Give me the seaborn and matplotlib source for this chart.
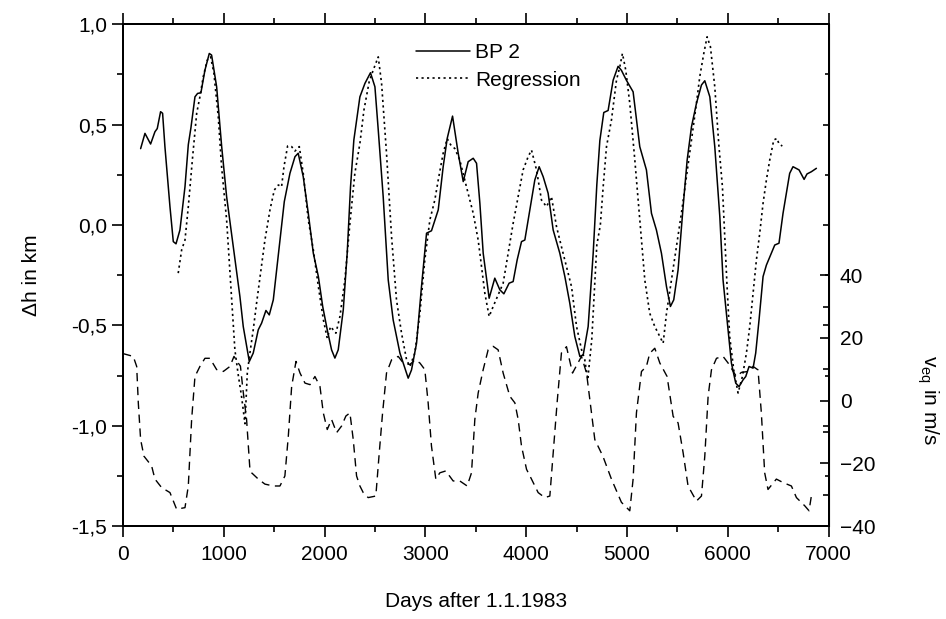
import pandas as pd
import seaborn as sns
import matplotlib.pyplot as plt
from matplotlib.ticker import MultipleLocator, FixedLocator

# BP 2 (solid), height change in km
bp2_days = [175, 218, 274, 317, 340, 373, 393, 416, 466, 499, 526, 565, 615, 648, 674,
            714, 740, 773, 813, 856, 879, 929, 979, 1028, 1094, 1160, 1193, 1253, 1292,
            1342, 1375, 1418, 1451, 1491, 1517, 1557, 1600, 1656, 1706, 1738, 1788, 1838,
            1888, 1938, 1981, 2026, 2069, 2102, 2135, 2185, 2224, 2257, 2290, 2350, 2400,
            2455, 2499, 2532, 2581, 2631, 2680, 2747, 2829, 2862, 2912, 2961, 3011, 3060,
            3127, 3176, 3216, 3269, 3325, 3375, 3424, 3474, 3507, 3540, 3573, 3632, 3688,
            3738, 3778, 3830, 3870, 3910, 3953, 3986, 4036, 4085, 4128, 4168, 4217, 4267,
            4333, 4383, 4432, 4482, 4532, 4565, 4614, 4664, 4700, 4730, 4769, 4812, 4862,
            4911, 4944, 4994, 5060, 5126, 5192, 5242, 5291, 5341, 5391, 5430, 5463, 5506,
            5556, 5596, 5639, 5688, 5738, 5771, 5821, 5870, 5920, 5952, 5992, 6035, 6078,
            6111, 6151, 6177, 6210, 6250, 6276, 6309, 6349, 6382, 6431, 6465, 6507, 6547,
            6580, 6613, 6646, 6706, 6756, 6785, 6828, 6878]
bp2_dh = [0.38, 0.456, 0.403, 0.464, 0.48, 0.564, 0.556, 0.39, 0.091, -0.083, -0.094, -0.025,
          0.19, 0.40, 0.484, 0.638, 0.655, 0.658, 0.771, 0.854, 0.846, 0.688, 0.39, 0.141,
          -0.108, -0.357, -0.506, -0.68, -0.638, -0.522, -0.489, -0.426, -0.448, -0.373,
          -0.257, -0.075, 0.116, 0.257, 0.34, 0.357, 0.24, 0.058, -0.141, -0.257, -0.406,
          -0.522, -0.622, -0.663, -0.622, -0.423, -0.141, 0.19, 0.423, 0.638, 0.705, 0.758,
          0.688, 0.473, 0.141, -0.274, -0.473, -0.638, -0.763, -0.722, -0.589, -0.307,
          -0.041, -0.029, 0.075, 0.29, 0.431, 0.542, 0.357, 0.216, 0.315, 0.332, 0.307,
          0.108, -0.141, -0.365, -0.265, -0.323, -0.343, -0.29, -0.282, -0.174, -0.083,
          -0.075, 0.075, 0.224, 0.29, 0.24, 0.158, -0.025, -0.141, -0.257, -0.39, -0.556,
          -0.655, -0.647, -0.506, -0.141, 0.2, 0.42, 0.56, 0.57, 0.721, 0.79, 0.77, 0.72,
          0.663, 0.39, 0.274, 0.058, -0.025, -0.141, -0.307, -0.406, -0.373, -0.224, 0.091,
          0.323, 0.489, 0.605, 0.697, 0.718, 0.638, 0.39, 0.041, -0.274, -0.473, -0.688,
          -0.788, -0.805, -0.771, -0.755, -0.705, -0.713, -0.638, -0.473, -0.257, -0.2,
          -0.141, -0.1, -0.091, 0.058, 0.158, 0.257, 0.29, 0.274, 0.227, 0.254, 0.265, 0.282]

# Regression (dotted)
reg_days = [548, 582, 615, 648, 691, 731, 763, 796, 836, 869, 902, 945, 978, 1028, 1077,
            1110, 1143, 1175, 1210, 1233, 1259, 1292, 1325, 1365, 1408, 1458, 1501, 1541,
            1573, 1597, 1633, 1673, 1706, 1749, 1788, 1838, 1888, 1938, 1988, 2026, 2059,
            2112, 2152, 2201, 2251, 2300, 2350, 2390, 2442, 2482, 2532, 2565, 2614, 2664,
            2713, 2763, 2813, 2846, 2895, 2945, 2994, 3044, 3093, 3127, 3176, 3216, 3249,
            3292, 3341, 3407, 3474, 3523, 3540, 3589, 3632, 3672, 3721, 3771, 3820, 3870,
            3920, 3969, 4019, 4052, 4102, 4151, 4201, 4250, 4300, 4349, 4399, 4449, 4499,
            4548, 4580, 4610, 4650, 4700, 4735, 4763, 4796, 4845, 4895, 4928, 4954, 4987,
            5027, 5077, 5126, 5176, 5225, 5275, 5325, 5358, 5391, 5440, 5490, 5539, 5589,
            5639, 5688, 5721, 5761, 5794, 5827, 5870, 5910, 5946, 5969, 5992, 6018, 6058,
            6101, 6144, 6184, 6217, 6250, 6283, 6316, 6349, 6382, 6415, 6455, 6488, 6507, 6540]
reg_dh = [-0.24, -0.124, -0.075, 0.091, 0.34, 0.556, 0.638, 0.738, 0.821, 0.838, 0.755,
          0.539, 0.29, 0.025, -0.357, -0.622, -0.746, -0.85, -0.99, -0.738, -0.638, -0.522,
          -0.39, -0.24, -0.075, 0.075, 0.174, 0.199, 0.19, 0.29, 0.393, 0.39, 0.368, 0.39,
          0.257, 0.025, -0.124, -0.307, -0.473, -0.564, -0.506, -0.539, -0.456, -0.274,
          0.008, 0.257, 0.406, 0.572, 0.713, 0.771, 0.837, 0.705, 0.357, -0.058, -0.373,
          -0.539, -0.672, -0.705, -0.638, -0.44, -0.174, 0.025, 0.124, 0.224, 0.357, 0.43,
          0.40, 0.38, 0.323, 0.19, 0.058, -0.075, -0.141, -0.339, -0.456, -0.406, -0.348,
          -0.29, -0.141, 0.008, 0.141, 0.274, 0.34, 0.373, 0.274, 0.124, 0.091, 0.141,
          -0.008, -0.108, -0.207, -0.307, -0.506, -0.62, -0.67, -0.77, -0.57, -0.1, 0.0,
          0.19, 0.39, 0.522, 0.721, 0.787, 0.854, 0.771, 0.605, 0.323, 0.025, -0.274, -0.44,
          -0.506, -0.556, -0.589, -0.44, -0.274, -0.108, 0.058, 0.24, 0.423, 0.605, 0.738,
          0.854, 0.937, 0.887, 0.688, 0.40, 0.19, -0.058, -0.307, -0.556, -0.721, -0.837,
          -0.755, -0.638, -0.506, -0.339, -0.174, -0.041, 0.108, 0.224, 0.323, 0.423, 0.431,
          0.403, 0.393]

# v_eq (dashed), right axis, m/s
veq_days = [0, 102, 136, 152, 175, 208, 284, 317, 383, 466, 532, 615, 648, 681, 714, 763,
            813, 862, 929, 995, 1061, 1101, 1143, 1165, 1190, 1226, 1259, 1276, 1342, 1408,
            1491, 1557, 1606, 1640, 1673, 1716, 1756, 1805, 1855, 1904, 1954, 1987, 2026,
            2069, 2119, 2168, 2211, 2251, 2284, 2317, 2350, 2383, 2432, 2508, 2542, 2575,
            2614, 2664, 2730, 2780, 2846, 2895, 2945, 2994, 3027, 3060, 3103, 3143, 3202,
            3275, 3341, 3414, 3457, 3490, 3523, 3573, 3622, 3672, 3721, 3771, 3837, 3887,
            3920, 3953, 4003, 4052, 4118, 4184, 4234, 4267, 4306, 4349, 4399, 4459, 4548,
            4598, 4680, 4760, 4845, 4944, 5027, 5060, 5093, 5143, 5192, 5225, 5275, 5325,
            5397, 5457, 5506, 5556, 5605, 5688, 5738, 5771, 5804, 5837, 5887, 5952, 6002,
            6084, 6134, 6200, 6250, 6299, 6332, 6365, 6398, 6481, 6547, 6630, 6680, 6762,
            6805, 6828]
veq = [15, 14.1, 10.9, -0.7, -12.4, -17.7, -20.8, -25, -27.7, -29.3, -34.6, -34.1, -27.2,
       -6, 7.7, 10.9, 13.5, 13.5, 9.9, 9.3, 10.9, 14.1, 12, 11, 3.5, -6, -21.9, -23, -25,
       -26.6, -27.2, -27.2, -24, -11.3, 4.5, 12.5, 8.8, 5.6, 5.1, 7.7, 4.5, -3.9, -9.2, -6,
       -10.2, -8.1, -4.9, -3.9, -12.4, -24, -27.2, -29.3, -30.9, -30.4, -16.6, -3.9, 8.8,
       13, 14.1, 12, 11.5, 13, 12, 9.9, -0.7, -14.5, -25, -23, -22.4, -25.6, -25.6, -27.2,
       -23, -6, 2.4, 9.9, 16.2, 17.3, 16.2, 8.8, 1.4, -0.7, -6, -14.5, -21.9, -25, -29.3,
       -30.9, -30.4, -16.6, -0.7, 15.2, 17.2, 8.8, 14.1, 8.8, -12.4, -17.7, -25, -32.4,
       -35.1, -25, -3.9, 9.3, 10.9, 15.1, 16.7, 12, 7.7, -5, -7.1, -16.6, -27.2, -32,
       -30.4, -17.7, 1.4, 9.8, 13.5, 14.1, 12, 7.7, 9, 9.3, 10.9, 9.8, -3.9, -23, -28.3,
       -25, -26.1, -27.2, -30.9, -33.5, -35.1, -30.4]

dh_ticks = [-1.5, -1.0, -0.5, 0.0, 0.5, 1.0]
dh_ticklabels = ["-1,5", "-1,0", "-0,5", "0,0", "0,5", "1,0"]
v_ticks = [-40, -20, 0, 20, 40]
day_ticks = [0, 1000, 2000, 3000, 4000, 5000, 6000, 7000]

sns.set_style("ticks", {"axes.edgecolor": "black", "xtick.color": "black",
                        "ytick.color": "black", "text.color": "black",
                        "axes.labelcolor": "black"})
plt.rcParams['font.family'] = ['Liberation Sans', 'DejaVu Sans']
plt.rcParams['mathtext.fontset'] = 'custom'
plt.rcParams['mathtext.rm'] = 'Liberation Sans'
plt.rcParams['font.size'] = 15
plt.rcParams['xtick.labelsize'] = 15
plt.rcParams['ytick.labelsize'] = 15

fig = plt.figure(figsize=(9.46, 6.19), dpi=100)
ax = fig.add_axes([0.130, 0.150, 0.746, 0.811])

bp2 = pd.DataFrame({"day": bp2_days, "dh": bp2_dh})
reg = pd.DataFrame({"day": reg_days, "dh": reg_dh})
vq = pd.DataFrame({"day": veq_days, "v": veq})

sns.lineplot(data=bp2, x="day", y="dh", ax=ax, color="black", lw=1.1, label="BP 2")
sns.lineplot(data=reg, x="day", y="dh", ax=ax, color="black", lw=1.2,
             linestyle=(0, (1.3, 2.0)), label="Regression")

ax2 = ax.twinx()
sns.lineplot(data=vq, x="day", y="v", ax=ax2, color="black", lw=1.0,
             linestyle=(0, (6, 4)))

ax.set_xlim(0, 7000)
ax.set_ylim(-1.5, 1.0)
ax2.set_ylim(-40, 120)

ax.set_xticks(day_ticks)
ax.xaxis.set_minor_locator(MultipleLocator(500))
ax.set_yticks(dh_ticks)
ax.set_yticklabels(dh_ticklabels)
ax.yaxis.set_minor_locator(MultipleLocator(0.25))
ax.tick_params(axis="x", which="both", direction="out", top=True, bottom=True, width=1.2)
ax.tick_params(axis="x", which="major", pad=5.5)
ax.tick_params(axis="y", which="both", direction="out", left=True, right=False, width=1.2)
ax.tick_params(which="major", length=8)
ax.tick_params(which="minor", length=4.5)

ax2.set_yticks(v_ticks)
ax2.yaxis.set_minor_locator(FixedLocator([-30, -10, 10, 30]))
ax2.tick_params(axis="y", which="both", direction="in", right=True, left=False,
                width=1.2, pad=8)
ax2.tick_params(axis="y", which="major", length=6.5)
ax2.tick_params(axis="y", which="minor", length=4)

# mirrored left-axis ticks on the right spine
sec = ax.secondary_yaxis("right")
sec.set_yticks(dh_ticks)
sec.yaxis.set_minor_locator(MultipleLocator(0.25))
sec.tick_params(axis="y", which="both", direction="in", labelright=False, width=1.2)
sec.tick_params(axis="y", which="major", length=4)
sec.tick_params(axis="y", which="minor", length=3)

for a in (ax, ax2):
    for s in a.spines.values():
        s.set_linewidth(1.4)
        s.set_visible(True)

ax.set_xlabel("Days after 1.1.1983", fontsize=15, labelpad=20)
ax.set_ylabel("Δh in km", fontsize=15)
ax.yaxis.set_label_coords(-0.116, 0.5)
ax2.set_ylabel("v$_{\\mathregular{eq}}$ in m/s", fontsize=15, rotation=270, va="center")
ax2.yaxis.set_label_coords(1.14, 0.251)

ax.legend(loc="upper left", bbox_to_anchor=(0.415, 0.962), frameon=False, borderpad=0,
          borderaxespad=0, handlelength=2.6, handletextpad=0.25, labelspacing=0.4,
          fontsize=15)

fig.savefig("out.png", dpi=100)
